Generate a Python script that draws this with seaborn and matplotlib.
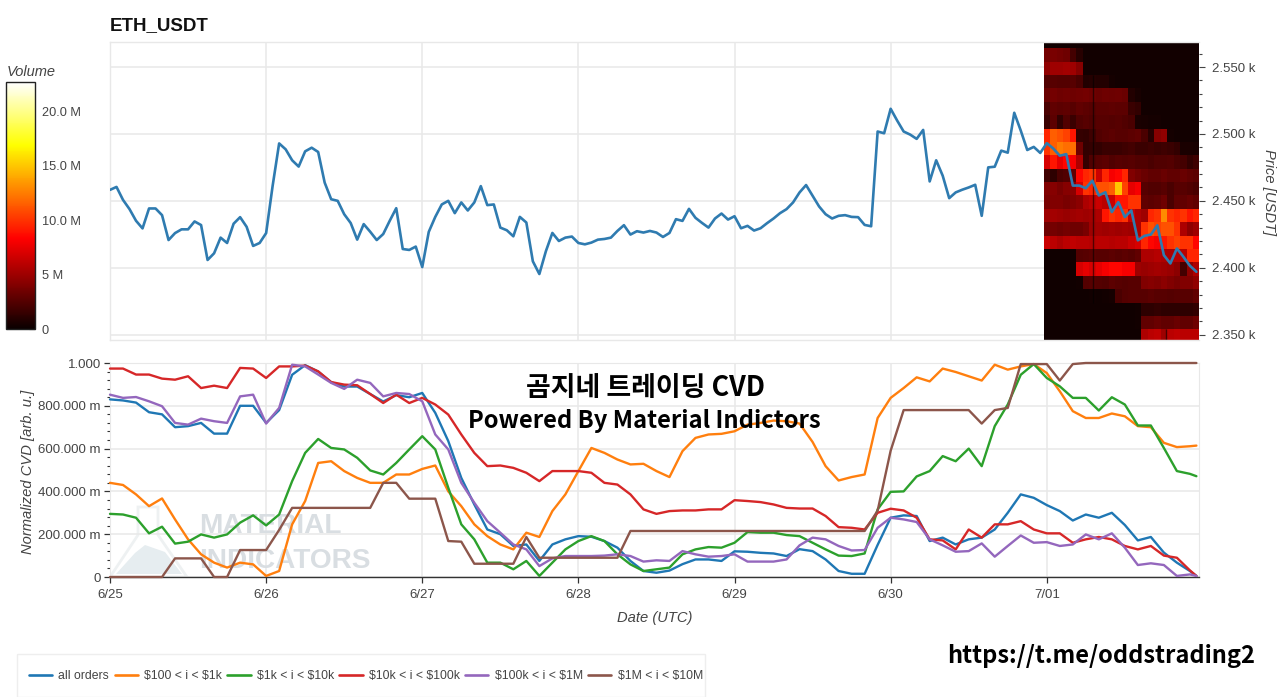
import numpy as np
import pandas as pd
import matplotlib
matplotlib.use("Agg")
import matplotlib.pyplot as plt
import seaborn as sns
from matplotlib.patches import Polygon, Rectangle
from matplotlib.ticker import FixedLocator

# --- hourly price, 6/25 00:00 to 7/01 23:00 ---
price_hours = np.arange(168)
price = [
    2458.2, 2460.4, 2450.7, 2443.8, 2435.1, 2429.4, 2444.3, 2444.3, 2439.3, 2420.7, 2425.9, 2428.7,
    2428.7, 2434.6, 2431.9, 2405.8, 2410.8, 2422.5, 2418.5, 2432.9, 2437.8, 2430.6, 2416.3, 2418.5,
    2425.9, 2461.2, 2492.9, 2488.5, 2480.3, 2475.6, 2487.0, 2489.7, 2486.5, 2463.6, 2451.2, 2450.0,
    2440.0, 2433.4, 2421.0, 2432.6, 2426.9, 2420.7, 2425.2, 2435.1, 2444.5, 2414.0, 2413.3, 2415.8,
    2400.5, 2426.8, 2438.0, 2447.3, 2450.0, 2440.8, 2448.8, 2442.8, 2448.8, 2461.0, 2446.8, 2447.3,
    2430.0, 2428.0, 2423.5, 2438.0, 2433.8, 2404.8, 2395.3, 2412.3, 2426.0, 2420.0, 2422.5, 2423.3,
    2418.5, 2417.5, 2418.8, 2421.0, 2421.5, 2422.5, 2427.5, 2431.8, 2424.8, 2427.3, 2426.3, 2427.5,
    2426.3, 2423.0, 2426.0, 2436.3, 2435.0, 2444.0, 2437.3, 2433.5, 2430.0, 2436.8, 2440.5, 2436.0,
    2438.5, 2429.5, 2431.3, 2427.8, 2429.5, 2433.3, 2436.8, 2440.8, 2443.8, 2448.8, 2456.3, 2461.8,
    2453.8, 2445.8, 2440.0, 2436.8, 2438.8, 2439.3, 2438.0, 2437.8, 2432.0, 2431.0, 2501.8, 2500.5,
    2518.8, 2510.0, 2501.8, 2499.5, 2496.3, 2503.0, 2464.5, 2480.3, 2468.8, 2452.0, 2456.3, 2458.3,
    2460.0, 2462.0, 2438.8, 2475.0, 2475.5, 2487.5, 2486.0, 2515.8, 2502.5, 2488.0, 2490.3, 2485.8,
    2493.1, 2489.1, 2483.7, 2484.9, 2461.4, 2461.4, 2459.4, 2465.1, 2454.0, 2456.4, 2441.6, 2449.0,
    2437.9, 2442.8, 2420.5, 2423.8, 2424.8, 2431.7, 2409.4, 2403.2, 2414.4, 2408.2, 2401.5, 2397.0,
]

# --- order book volume on the last day, in millions, rows from top price bin down ---
heat_bins = [2564, 2554, 2544, 2534, 2524, 2514, 2504, 2494, 2484, 2474, 2464, 2454,
             2444, 2434, 2424, 2414, 2404, 2394, 2384, 2374, 2364, 2354, 2344]
heat_volume = [
    [.2, .2, .2, .2, .2, .2, .2, .2, .2, .2, .2, .2, .2, .2, .2, .2, .2, .2, .2, .2, .2, .2, .2, .2],
    [3.6, 3.8, 3.6, 3.4, 2, 1, .3, .3, .3, .3, .3, .3, .3, .3, .3, .3, .3, .3, .3, .3, .3, .3, .3, .3],
    [4.6, 5, 5, 5.2, 5, 4.2, .3, .3, .3, .3, .3, .3, .3, .3, .3, .3, .3, .3, .3, .3, .3, .3, .3, .3],
    [2.4, 2.6, 2.5, 2.5, 2.6, 2.2, .8, .9, .8, .8, .4, .3, .3, .3, .3, .3, .3, .3, .3, .3, .3, .3, .3, .3],
    [3.2, 3.6, 3.4, 3.5, 3.4, 3.5, 3.6, 3.4, 3.2, 3.4, 3.3, 3.4, 3.2, .8, .5, .3, .3, .3, .3, .3, .3, .3, .3, .3],
    [2.2, 3, 2.8, 2.9, 2.6, 3, 2.8, 2.6, 2.8, 2.8, 2.9, 2.8, 2.8, 1.6, 1.4, .3, .3, .3, .3, .3, .3, .3, .3, .3],
    [1.6, 2.8, 1.4, 2.4, 1.6, 2.4, 2.6, 2.4, 2.6, 2.6, 2.5, 2.6, 2.4, 2.2, .6, .5, .4, .4, .3, .3, .3, .3, .3, .3],
    [9.5, 11.5, 11, 10.5, 9, 1.5, 1.4, 1.8, 2.4, 2.6, 2.8, 2.6, 2.6, 2.8, 3, 2.2, 1, 4.2, 4.6, .4, .3, .3, .3, .3],
    [10, 11.5, 12.5, 12, 12, 3.4, 1.4, 1.5, 1.4, 1.6, 1.6, 1.6, 1.8, 2, 1.6, 1.6, 1.8, 1.6, 1.8, 1.6, 1.4, .6, .6, .5],
    [7, 9, 7.5, 8.5, 8, 5.5, 1.5, 2.4, 2.6, 2.8, 2.4, 2.6, 2.5, 2.6, 2.4, 2.4, 2.2, 2.4, 2.4, 2.5, 2.2, 2, 1.4, 1.8],
    [1.8, 1.2, 2.2, 2.4, 3, 8.5, 9.5, 10, 6.5, 9.5, 8, 8.5, 9.5, 4, 3.6, 3.2, 3, 3, 3.2, 3, 3, 3.2, 3, 2.8],
    [4, 4.2, 3.8, 4.2, 4.4, 7, 10, 9.5, 11, 11, 11.5, 15, 10.5, 7.5, 8, 2.6, 2.4, 2.4, 2.6, 2.2, 2.6, 2.6, 2.4, 2.2],
    [3.8, 4, 4, 3.8, 4, 4.4, 5.5, 6, 6.5, 6, 6.5, 9, 9, 10, 10, 3, 2.8, 3, 3.4, 2.2, 3, 3, 3.2, 3],
    [5, 5.2, 5, 4.8, 5, 5.2, 5, 5.2, 5.5, 9, 10, 9.5, 10, 6.5, 5.5, 5, 9.5, 10, 13, 10, 9.5, 10, 9, 9.5],
    [3.4, 3.6, 3.4, 3.6, 3.4, 3.4, 3.8, 5, 5.2, 5, 5.2, 5, 5.2, 5, 5.5, 10, 11, 10.5, 11, 11, 10, 5.5, 4.5, 5],
    [6.5, 6, 5.5, 6, 6.2, 6, 6, 5.8, 6, 6, 5.8, 6, 6, 6.5, 7, 9.5, 8.5, 8, 9, 10, 10.5, 10, 10, 8.5],
    [.2, .2, .2, .2, .3, 2.5, 2.6, 2.8, 2.6, 2.6, 2.8, 2.6, 2.8, 2.6, 3, 5.5, 5.5, 5.8, 5.5, 5.5, 5.8, 6, 9.5, 9.5],
    [.2, .2, .2, .2, .2, 7, 7.5, 7, 7.5, 8, 8.5, 8.5, 8, 8, 5, 4.8, 5, 5.2, 5, 4.8, 4.4, 2, 4.5, 5.5],
    [.2, .2, .2, .2, .2, .3, 2.5, 2.6, 2.5, 2.4, 2.8, 2.6, 2.5, 2.6, 2.6, 4, 4.2, 4, 4.4, 4, 3.8, 4, 4, 4.6],
    [.2, .2, .2, .2, .2, .2, .2, .3, .2, .3, .4, 2.2, 2.5, 2.6, 2.6, 2.6, 2.8, 2.6, 2.6, 2.5, 2.6, 2.6, 2.6, 3],
    [.2, .2, .2, .2, .2, .2, .2, .2, .2, .2, .2, .2, .2, .2, .3, 1.2, 1.2, 1.4, 1.2, 1.2, 1.2, 1.2, 1.2, 1.4],
    [.2, .2, .2, .2, .2, .2, .2, .2, .2, .2, .2, .2, .2, .2, .3, 3, 3, 3.2, 3, 3, 3.2, 3, 3, 3.4],
    [.2, .2, .2, .2, .2, .2, .2, .2, .2, .2, .2, .2, .2, .2, .2, 5.5, 6, 6.2, 5, 6, 6.2, 6, 6, 6],
]
# thin empty columns in the heatmap: hour, low price, high price
gap_hours = [151.1, 162.3]
gap_lows = [2374, 2346]
gap_highs = [2544, 2354]

# --- normalized CVD, every 2 hours, last point at hour 167 ---
cvd_hours = list(range(0, 168, 2)) + [167]

cvd_all = [
    .83, .825, .815, .77, .76, .70, .705, .72, .67, .67, .80, .80,
    .72, .78, .945, .99, .96, .91, .89, .89, .855, .82, .85, .84,
    .86, .767, .635, .463, .339, .222, .20, .145, .152, .075, .152, .176,
    .191, .188, .168, .137, .075, .028, .02, .03, .06, .082, .082, .075,
    .12, .118, .113, .11, .098, .13, .121, .082, .028, .015, .015, .15,
    .277, .288, .285, .168, .184, .152, .176, .184, .222, .30, .386, .37,
    .336, .308, .264, .292, .277, .30, .243, .171, .187, .114, .067, .028, .005,
]
cvd_100 = [
    .44, .43, .386, .331, .367, .269, .176, .106, .067, .044, .067, .059,
    .005, .028, .246, .355, .533, .541, .495, .463, .44, .44, .479, .479,
    .505, .521, .40, .331, .246, .191, .152, .129, .207, .187, .308, .386,
    .495, .603, .58, .549, .526, .529, .495, .467, .588, .65, .666, .669,
    .681, .712, .72, .731, .728, .717, .631, .518, .451, .467, .479, .743,
    .837, .883, .933, .914, .974, .958, .938, .918, .992, .969, .984, .995,
    .953, .868, .775, .743, .743, .764, .751, .705, .70, .627, .607, .611, .614,
]
cvd_1k = [
    .295, .292, .277, .204, .235, .156, .165, .199, .184, .199, .254, .288,
    .241, .292, .448, .58, .645, .603, .596, .557, .498, .479, .533, .596,
    .658, .596, .417, .246, .176, .067, .067, .036, .075, .005, .067, .129,
    .168, .191, .168, .106, .059, .028, .036, .044, .106, .129, .14, .137,
    .16, .21, .207, .207, .196, .191, .16, .129, .10, .098, .11, .316,
    .398, .40, .47, .495, .565, .541, .60, .518, .705, .806, .945, .995,
    .93, .891, .837, .837, .778, .84, .806, .708, .708, .603, .495, .482, .471,
]
cvd_10k = [
    .974, .974, .946, .946, .927, .922, .938, .883, .894, .883, .977, .974,
    .93, .984, .984, .988, .961, .911, .899, .896, .855, .813, .852, .813,
    .837, .806, .759, .666, .58, .518, .521, .51, .487, .448, .495, .495,
    .495, .487, .44, .432, .386, .316, .295, .308, .311, .311, .316, .316,
    .359, .355, .35, .339, .323, .32, .32, .285, .233, .23, .222, .30,
    .319, .311, .277, .176, .171, .129, .222, .184, .246, .246, .261, .222,
    .204, .204, .16, .176, .187, .176, .145, .129, .145, .10, .09, .031, .005,
]
cvd_100k = [
    .852, .837, .841, .821, .798, .72, .712, .74, .728, .72, .844, .852,
    .717, .79, .992, .984, .946, .907, .879, .922, .907, .844, .86, .855,
    .821, .666, .596, .44, .347, .261, .207, .152, .129, .051, .087, .098,
    .098, .098, .10, .106, .098, .072, .078, .075, .121, .106, .095, .098,
    .106, .072, .072, .072, .082, .148, .184, .176, .145, .124, .126, .23,
    .277, .269, .257, .176, .148, .118, .121, .157, .095, .145, .194, .16,
    .163, .145, .152, .199, .176, .204, .137, .056, .064, .056, .005, .012, .005,
]
cvd_1m = [
    0, 0, 0, 0, 0, .087, .087, .087, 0, 0, .126, .126,
    .126, .22, .323, .323, .323, .323, .323, .323, .323, .44, .44, .366,
    .366, .366, .168, .165, .062, .062, .062, .062, .187, .09, .09, .09,
    .09, .09, .09, .09, .215, .215, .215, .215, .215, .215, .215, .215,
    .215, .215, .215, .215, .215, .215, .215, .215, .215, .215, .215, .31,
    .59, .78, .78, .78, .78, .78, .78, .717, .78, .79, .995, .995,
    .995, .918, .995, 1, 1, 1, 1, 1, 1, 1, 1, 1, 1,
]

series_names = ["all orders", r"\$100 < i < \$1k", r"\$1k < i < \$10k",
                r"\$10k < i < \$100k", r"\$100k < i < \$1M", r"\$1M < i < \$10M"]
series_values = [cvd_all, cvd_100, cvd_1k, cvd_10k, cvd_100k, cvd_1m]
series_colors = ["#1f77b4", "#ff7f0e", "#2ca02c", "#d62728", "#9467bd", "#8c564b"]

day_hours = [0, 24, 48, 72, 96, 120, 144]
day_labels = ["6/25", "6/26", "6/27", "6/28", "6/29", "6/30", "7/01"]
price_ticks = [2350, 2400, 2450, 2500, 2550]
price_tick_labels = ["2.350 k", "2.400 k", "2.450 k", "2.500 k", "2.550 k"]
cvd_ticks = [0, .2, .4, .6, .8, 1.0]
cvd_tick_labels = ["0", "200.000 m", "400.000 m", "600.000 m", "800.000 m", "1.000"]
volume_ticks = [0, 5, 10, 15, 20]
volume_tick_labels = ["0", "5 M", "10.0 M", "15.0 M", "20.0 M"]

W, H = 1280, 697
GRID = "#e8e8e8"
TEXT = "#444444"

sns.set_style("white")
plt.rcParams['font.family'] = ['Liberation Sans', 'DejaVu Sans']
plt.rcParams['mathtext.default'] = 'regular'


def px_box(left, top, right, bottom):
    """Axes rectangle from picture pixels."""
    return [left / W, 1 - bottom / H, (right - left) / W, (bottom - top) / H]


def fx(x):
    return x / W


def fy(y):
    return 1 - y / H


fig = plt.figure(figsize=(W / 100, H / 100), dpi=100)
ax_price = fig.add_axes(px_box(110, 42, 1199, 340))
ax_cvd = fig.add_axes(px_box(110, 363, 1199, 577))
ax_bar = fig.add_axes(px_box(6, 82, 35, 329))

xlim = (0, 167.4)

# --- Price panel ---
heat_x = np.arange(25) + 143.5
heat_y = [heat_bins[-1] + 10 * i for i in range(len(heat_bins) + 1)]
mesh = ax_price.pcolormesh(heat_x, heat_y, np.array(heat_volume)[::-1], cmap="hot",
                           vmin=0, vmax=22.7, zorder=2, rasterized=True)
ax_price.vlines(gap_hours, gap_lows, gap_highs, color="black", alpha=.55, lw=1, zorder=2.5)
sns.lineplot(x=price_hours, y=price, ax=ax_price, color="#2f7bb0", lw=1.9, zorder=3,
             errorbar=None)
ax_price.set_xlim(xlim)
ax_price.set_ylim(2346, 2568.7)
ax_price.set_xticks(day_hours)
ax_price.set_xticklabels([])
ax_price.tick_params(axis="x", length=0)
ax_price.yaxis.tick_right()
ax_price.yaxis.set_label_position("right")
ax_price.set_yticks(price_ticks)
ax_price.set_yticklabels(price_tick_labels, color=TEXT, fontsize=9.5)
ax_price.yaxis.set_minor_locator(FixedLocator([p for p in range(2350, 2570, 10) if p % 50]))
ax_price.tick_params(axis="y", which="major", length=4.5, width=.8, color=TEXT, pad=5, right=True)
ax_price.tick_params(axis="y", which="minor", length=2.5, width=.8, color=TEXT, right=True)
ax_price.grid(True, color=GRID, lw=1.1, zorder=0)
ax_price.set_axisbelow(True)
ax_price.set_xlabel("")
fig.text(fx(1269), fy(192), "Price [USDT]", rotation=270, style="italic", color=TEXT,
         fontsize=10.6, ha="center", va="center")
for side in ax_price.spines:
    ax_price.spines[side].set_color(GRID)
    ax_price.spines[side].set_linewidth(1)
ax_price.spines["right"].set_visible(False)
fig.text(fx(110), fy(26), "ETH_USDT", fontweight="bold", fontsize=13.5, color="#111111",
         ha="left", va="center")

# --- Colorbar ---
cbar = fig.colorbar(mesh, cax=ax_bar)
cbar.set_ticks(volume_ticks)
cbar.set_ticklabels(volume_tick_labels)
cbar.ax.tick_params(length=4, width=.8, direction="in", color="#333333", labelcolor=TEXT,
                    labelsize=9.2, pad=5)
cbar.outline.set_edgecolor("#222222")
cbar.outline.set_linewidth(1)
fig.text(fx(7), fy(72), "Volume", style="italic", color=TEXT, fontsize=10.5, ha="left", va="center")

# --- CVD panel ---
# watermark goes first so the lines stay on top of it
flask = Polygon([(fx(138), fy(507)), (fx(158), fy(507)), (fx(158), fy(535)), (fx(187), fy(577)),
                 (fx(110), fy(577)), (fx(138), fy(535))], closed=True, transform=fig.transFigure,
                facecolor="none", edgecolor="#eef1f2", lw=2, zorder=0.5)
hill = Polygon([(fx(116), fy(574)), (fx(135), fy(553)), (fx(145), fy(545)), (fx(165), fy(552)),
                (fx(182), fy(574))], closed=True, transform=fig.transFigure,
               facecolor="#e6edf0", edgecolor="none", zorder=0.5)
ax_cvd.add_patch(flask)
ax_cvd.add_patch(hill)
ax_cvd.text(fx(199), fy(526), "MATERIAL", transform=fig.transFigure, fontsize=20.2, fontweight="bold",
            color="#d9dee2", ha="left", va="center", zorder=0.6)
ax_cvd.text(fx(199), fy(561), "INDICATORS", transform=fig.transFigure, fontsize=20.2, fontweight="bold",
            color="#d9dee2", ha="left", va="center", zorder=0.6)

cvd_df = pd.DataFrame({"hour": cvd_hours})
for name, values in zip(series_names, series_values):
    cvd_df[name] = values
cvd_long = cvd_df.melt(id_vars="hour", var_name="size", value_name="cvd")
sns.lineplot(data=cvd_long, x="hour", y="cvd", hue="size", hue_order=series_names,
             palette=series_colors, lw=1.7, ax=ax_cvd, errorbar=None, legend=False, zorder=3,
             clip_on=False)
ax_cvd.set_xlim(xlim)
ax_cvd.set_ylim(0, 1.0)
ax_cvd.set_xticks(day_hours)
ax_cvd.set_xticklabels(day_labels, color=TEXT, fontsize=9.5)
ax_cvd.set_yticks(cvd_ticks)
ax_cvd.set_yticklabels(cvd_tick_labels, color=TEXT, fontsize=9.5)
ax_cvd.yaxis.set_minor_locator(FixedLocator([v / 1000 for v in range(40, 1000, 40) if v % 200]))
ax_cvd.tick_params(axis="x", which="major", length=4.5, width=.9, color="#333333", bottom=True, pad=4)
ax_cvd.tick_params(axis="y", which="major", length=4.5, width=.9, color="#333333", left=True, pad=2)
ax_cvd.tick_params(axis="y", which="minor", length=2.5, width=.8, color="#333333", left=True)
ax_cvd.grid(True, color=GRID, lw=1.1)
ax_cvd.set_axisbelow(True)
ax_cvd.set_xlabel("")
ax_cvd.set_ylabel("")
for side in ["top", "right", "left"]:
    ax_cvd.spines[side].set_color(GRID)
ax_cvd.spines["bottom"].set_color("#333333")
ax_cvd.spines["bottom"].set_linewidth(1)
fig.text(fx(28), fy(472), "Normalized CVD [arb. u.]", rotation=90, style="italic", color=TEXT,
         fontsize=10.6, ha="center", va="center")
fig.text(fx(655), fy(618), "Date (UTC)", style="italic", color=TEXT, fontsize=10.6,
         ha="center", va="center")

# --- Overlaid captions ---
CAPTION_FONT = ['Noto Sans CJK KR', 'DejaVu Sans']
fig.text(fx(646), fy(388), "곰지네 트레이딩 CVD", family=CAPTION_FONT, fontweight="bold",
         fontsize=19.4, color="black", ha="center", va="center", zorder=5)
fig.text(fx(644), fy(421), "Powered By Material Indictors", family=CAPTION_FONT, fontweight="bold",
         fontsize=17.1, color="black", ha="center", va="center", zorder=5)
fig.text(fx(1101), fy(656), "https://t.me/oddstrading2", family=CAPTION_FONT, fontweight="bold",
         fontsize=17, color="black", ha="center", va="center", zorder=5)

# --- Legend ---
fig.add_artist(Rectangle((fx(17), fy(697)), 688 / W, 43 / H, transform=fig.transFigure,
                         facecolor="white", edgecolor="#eeeeee", lw=1))
handles = [plt.Line2D([], [], color=c, lw=1.9) for c in series_colors]
fig.legend(handles, series_names, loc="center left", bbox_to_anchor=(fx(29), fy(676)), ncol=6,
           frameon=False, fontsize=8.8, handlelength=1.9, handletextpad=.5, columnspacing=.45,
           borderpad=0, borderaxespad=0, labelcolor=TEXT)

fig.savefig("out.png", dpi=100)
